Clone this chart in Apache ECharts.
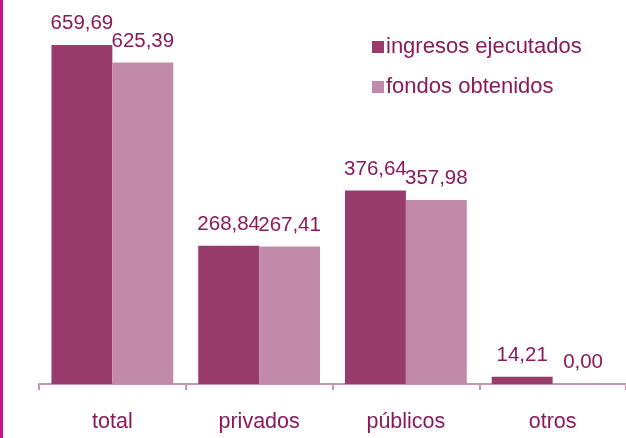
<!DOCTYPE html>
<html>
<head>
<meta charset="utf-8">
<script src="https://cdn.jsdelivr.net/npm/echarts@6/dist/echarts.min.js"></script>
<style>
  html, body { margin: 0; padding: 0; background: #fff; }
  #chart { width: 626px; height: 438px; border-left: 3px solid #c2158c; box-sizing: border-box; }
</style>
</head>
<body>
<div id="chart"></div>
<script>
const categories = ['total', 'privados', 'públicos', 'otros']
const ingresosEjecutados = [659.69, 268.84, 376.64, 14.21]
const fondosObtenidos = [625.39, 267.41, 357.98, 0.00]

const textColor = '#8a1a5c'
const font = 'Liberation Sans, Arial, sans-serif'
const fmt = v => v.toFixed(2).replace('.', ',')

const chart = echarts.init(document.getElementById('chart'))

const labelStyle = {
  show: true,
  position: 'top',
  distance: 11,
  color: textColor,
  fontSize: 20.5,
  fontFamily: font,
  formatter: p => fmt(p.value)
}

chart.setOption({
  animation: false,
  grid: { left: 36, top: 0, bottom: 54, width: 589 },
  legend: {
    orient: 'vertical',
    left: 364,
    top: 31,
    itemWidth: 12,
    itemHeight: 12,
    itemGap: 18,
    icon: 'rect',
    textStyle: { color: textColor, fontSize: 22, fontFamily: font, padding: [0, 0, 0, -3] },
    data: ['ingresos ejecutados', 'fondos obtenidos']
  },
  xAxis: {
    type: 'category',
    data: categories,
    axisLine: { lineStyle: { color: '#c995b0', width: 2 } },
    axisTick: { show: true, length: 6, lineStyle: { color: '#c995b0', width: 2 } },
    axisLabel: { color: textColor, fontSize: 21.5, margin: 27, fontFamily: font }
  },
  yAxis: { type: 'value', min: 0, max: 747, show: false, splitLine: { show: false } },
  series: [
    {
      name: 'ingresos ejecutados',
      type: 'bar',
      data: ingresosEjecutados,
      barGap: '0%',
      barCategoryGap: '17%',
      itemStyle: { color: '#983c6c' },
      label: labelStyle
    },
    {
      name: 'fondos obtenidos',
      type: 'bar',
      data: fondosObtenidos,
      itemStyle: { color: '#c08aa8' },
      label: labelStyle
    }
  ]
})
</script>
</body>
</html>
